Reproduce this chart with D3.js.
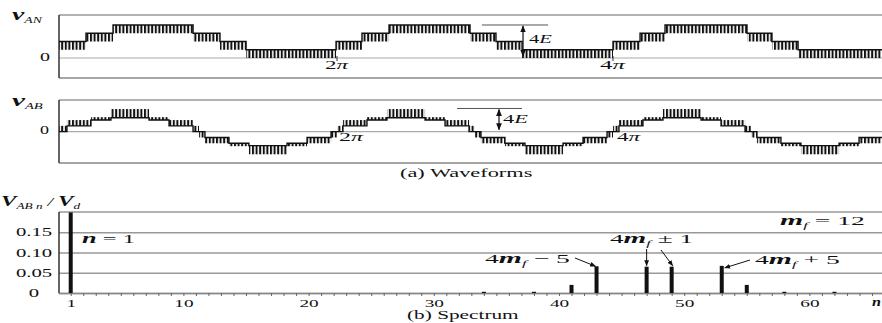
<!DOCTYPE html>
<html>
<head>
<meta charset="utf-8">
<script src="https://cdn.jsdelivr.net/npm/d3@7"></script>
<style>
  body { margin: 0; background: #fff; }
  svg { display: block; font-family: "Liberation Serif", "DejaVu Serif", serif; }
</style>
</head>
<body>
<div id="chart"></div>
<script>
// v_AN switching bands: [theta start, theta end] in units of pi, [low, high] level in units of E
const vanBands = [
  [-0.02, 0.181, 1, 2], [0.181, 0.377, 2, 3], [0.377, 0.957, 3, 4],
  [0.957, 1.152, 2, 3], [1.152, 1.341, 1, 2], [1.341, 1.993, 0, 1],
  [1.993, 2.181, 1, 2], [2.181, 2.377, 2, 3], [2.377, 2.964, 3, 4],
  [2.964, 3.152, 2, 3], [3.152, 3.341, 1, 2], [3.341, 4.0, 0, 1],
  [4.0, 4.196, 1, 2], [4.196, 4.377, 2, 3], [4.377, 4.971, 3, 4],
  [4.971, 5.152, 2, 3], [5.152, 5.341, 1, 2], [5.341, 5.96, 0, 1]
];

// v_AB switching bands, same layout
const vabBands = [
  [-0.02, 0.043, 0, 1], [0.043, 0.217, 1, 2], [0.217, 0.362, 2, 2.5],
  [0.362, 0.638, 2.4, 3.9], [0.638, 0.783, 2, 2.5], [0.783, 0.957, 1, 2],
  [0.957, 1.0, 0, 1], [1.0, 1.043, -1, 0], [1.043, 1.217, -2, -1],
  [1.217, 1.362, -2.5, -2], [1.362, 1.638, -3.9, -2.4], [1.638, 1.783, -2.5, -2],
  [1.783, 1.957, -2, -1], [1.957, 2.0, -1, 0],
  [2.0, 2.043, 0, 1], [2.043, 2.217, 1, 2], [2.217, 2.362, 2, 2.5],
  [2.362, 2.638, 2.4, 3.9], [2.638, 2.783, 2, 2.5], [2.783, 2.957, 1, 2],
  [2.957, 3.0, 0, 1], [3.0, 3.043, -1, 0], [3.043, 3.217, -2, -1],
  [3.217, 3.362, -2.5, -2], [3.362, 3.638, -3.9, -2.4], [3.638, 3.783, -2.5, -2],
  [3.783, 3.957, -2, -1], [3.957, 4.0, -1, 0],
  [4.0, 4.043, 0, 1], [4.043, 4.217, 1, 2], [4.217, 4.362, 2, 2.5],
  [4.362, 4.638, 2.4, 3.9], [4.638, 4.783, 2, 2.5], [4.783, 4.957, 1, 2],
  [4.957, 5.0, 0, 1], [5.0, 5.043, -1, 0], [5.043, 5.217, -2, -1],
  [5.217, 5.362, -2.5, -2], [5.362, 5.638, -3.9, -2.4], [5.638, 5.783, -2.5, -2],
  [5.783, 5.96, -2, -1]
];

// spectrum
const harmonics  = [1, 34, 38, 41, 43, 47, 49, 53, 55, 58, 62];
const amplitudes = [0.199, 0.003, 0.003, 0.02, 0.066, 0.065, 0.065, 0.067, 0.02, 0.003, 0.003];
const yTicks = [0, 0.05, 0.10, 0.15];
const yTickLabels = ['0', '0.05', '0.10', '0.15'];
const xTicks = [1, 10, 20, 30, 40, 50, 60];
const piMarks = [2, 4];
const piLabels = ['2', '4'];

const W = 882, H = 323;
const left = 59, right = 882;

const svg = d3.select('#chart').append('svg')
  .attr('width', W).attr('height', H);

const defs = svg.append('defs');
defs.append('pattern')
  .attr('id', 'pulse').attr('patternUnits', 'userSpaceOnUse')
  .attr('width', 3.6).attr('height', 8)
  .append('rect').attr('width', 2).attr('height', 8).attr('fill', '#111');
defs.append('marker')
  .attr('id', 'ah').attr('viewBox', '0 0 10 10')
  .attr('refX', 9).attr('refY', 5)
  .attr('markerWidth', 6).attr('markerHeight', 6)
  .attr('orient', 'auto-start-reverse')
  .append('path').attr('d', 'M0,1 L10,5 L0,9 z').attr('fill', '#111');

// text helper: stretches the text horizontally so it spans x0..x1
function label(x0, x1, y, parts) {
  const t = svg.append('text').attr('x', 0).attr('y', 0).attr('fill', '#111');
  let prev = 0;
  parts.forEach(p => {
    const off = p.off || 0;
    t.append('tspan')
      .attr('dy', off - prev)
      .attr('font-size', p.s || 12)
      .attr('font-style', p.i ? 'italic' : 'normal')
      .attr('font-weight', p.b ? 'bold' : 'normal')
      .text(p.t);
    prev = off;
  });
  const bb = t.node().getBBox();
  const sx = (x1 - x0) / bb.width;
  t.attr('transform', `translate(${x0},${y}) scale(${sx},1) translate(${-bb.x},0)`);
  return t;
}

const theta = d3.scaleLinear().domain([0, 6]).range([61, 889]);

function wavePanel(id, bands, y, top, bottom, baseOf) {
  const g = svg.append('g');
  defs.append('clipPath').attr('id', id)
    .append('rect').attr('x', left).attr('y', top)
    .attr('width', right - left).attr('height', bottom - top);

  g.append('line').attr('x1', left).attr('x2', right).attr('y1', top).attr('y2', top)
    .attr('stroke', '#999').attr('stroke-width', 1.4);
  g.append('line').attr('x1', left).attr('x2', right).attr('y1', bottom).attr('y2', bottom)
    .attr('stroke', '#888').attr('stroke-width', 1.6);
  g.append('line').attr('x1', left).attr('x2', right).attr('y1', y(0)).attr('y2', y(0))
    .attr('stroke', '#aaa').attr('stroke-width', 1.2);
  g.append('line').attr('x1', left).attr('x2', left).attr('y1', top).attr('y2', bottom)
    .attr('stroke', '#333').attr('stroke-width', 1.5);

  const w = g.append('g').attr('clip-path', `url(#${id})`);
  w.selectAll('rect.band')
    .data(bands)
    .enter()
    .append('rect')
      .attr('class', 'band')
      .attr('x', d => theta(d[0]))
      .attr('width', d => theta(d[1]) - theta(d[0]))
      .attr('y', d => y(d[3]))
      .attr('height', d => y(d[2]) - y(d[3]))
      .attr('fill', 'url(#pulse)');

  const pts = bands.map(d => [d[0], baseOf(d)]);
  const last = bands[bands.length - 1];
  pts.push([last[1], baseOf(last)]);
  w.append('path')
    .attr('d', d3.line().x(d => theta(d[0])).y(d => y(d[1])).curve(d3.curveStepAfter)(pts))
    .attr('fill', 'none').attr('stroke', '#111').attr('stroke-width', 1.4);
  return g;
}

// (a) waveforms
const yAN = d3.scaleLinear().domain([-2.42, 5.21]).range([78, 15]);
const yAB = d3.scaleLinear().domain([-5.4, 5.46]).range([163, 100]);

const gA = wavePanel('clipA', vanBands, yAN, 15, 78, d => d[3]);
const gB = wavePanel('clipB', vabBands, yAB, 100, 163,
  d => Math.abs(d[2]) < Math.abs(d[3]) ? d[2] : d[3]);

// small marks at 2pi, 4pi on v_AN
gA.selectAll('line.pim').data(piMarks).enter().append('line')
  .attr('x1', d => theta(d)).attr('x2', d => theta(d))
  .attr('y1', yAN(0) - 2).attr('y2', yAN(0) + 3)
  .attr('stroke', '#333').attr('stroke-width', 1);

// 4E markers
function fourE(g, y, t0, t1, ta) {
  g.append('line').attr('x1', theta(t0)).attr('x2', theta(t1))
    .attr('y1', y(4)).attr('y2', y(4)).attr('stroke', '#555').attr('stroke-width', 1);
  g.append('line').attr('x1', theta(ta)).attr('x2', theta(ta))
    .attr('y1', y(4) + 1).attr('y2', y(0) - 2)
    .attr('stroke', '#111').attr('stroke-width', 1.2)
    .attr('marker-start', 'url(#ah)').attr('marker-end', 'url(#ah)');
}
fourE(gA, yAN, 3.05, 3.53, 3.348);
fourE(gB, yAB, 2.87, 3.34, 3.174);

label(12, 43, 20, [{t: 'v', s: 16, i: 1, b: 1}, {t: 'AN', s: 8, i: 1, off: 3}]);
label(12, 43, 106, [{t: 'v', s: 16, i: 1, b: 1}, {t: 'AB', s: 8, i: 1, off: 3}]);
label(40, 50, 61, [{t: '0', s: 12}]);
label(40, 49, 134, [{t: '0', s: 12}]);

label(325, 350, 69, [{t: piLabels[0], s: 12}, {t: 'π', s: 12, i: 1}]);
label(600, 627, 69, [{t: piLabels[1], s: 12}, {t: 'π', s: 12, i: 1}]);
label(339, 365, 141, [{t: piLabels[0], s: 12}, {t: 'π', s: 12, i: 1}]);
label(617, 642, 141, [{t: piLabels[1], s: 12}, {t: 'π', s: 12, i: 1}]);
label(529, 553, 43, [{t: '4', s: 12}, {t: 'E', s: 12, i: 1}]);
label(503, 529, 123, [{t: '4', s: 12}, {t: 'E', s: 12, i: 1}]);
label(400, 533, 177, [{t: '(a) Waveforms', s: 12}]);

// (b) spectrum
const xs = d3.scaleLinear().domain([0, 66]).range([58.2, 884.5]);
const ys = d3.scaleLinear().domain([0, 0.2]).range([293, 212]);
const spec = harmonics.map((h, i) => ({h: h, v: amplitudes[i]}));

const gy = svg.append('g').attr('transform', `translate(${left},0)`)
  .call(d3.axisLeft(ys).tickValues(yTicks).tickSize(-(right - left))
    .tickFormat((d, i) => yTickLabels[i]));
gy.select('.domain').remove();
gy.selectAll('.tick line').attr('stroke', '#999').attr('stroke-width', 1.4);
gy.selectAll('.tick text')
  .attr('x', 0).attr('text-anchor', 'middle')
  .attr('font-family', '"Liberation Serif", serif').attr('font-size', 11.5).attr('fill', '#111')
  .attr('transform', 'translate(-25,0) scale(1.8,1)');

svg.append('line').attr('x1', left).attr('x2', right).attr('y1', 212).attr('y2', 212)
  .attr('stroke', '#999').attr('stroke-width', 1.4);

const gx = svg.append('g').attr('transform', 'translate(0,293)')
  .call(d3.axisBottom(xs).tickValues(d3.range(1, 66)).tickSize(3).tickSizeOuter(0).tickFormat(''));
gx.select('.domain').attr('stroke', '#888').attr('stroke-width', 1.5);
gx.selectAll('.tick line').attr('stroke', '#666');

const gxl = svg.append('g').attr('transform', 'translate(0,293)')
  .call(d3.axisBottom(xs).tickValues(xTicks).tickSize(0).tickPadding(6));
gxl.select('.domain').remove();
gxl.selectAll('.tick text')
  .attr('font-family', '"Liberation Serif", serif').attr('font-size', 11).attr('fill', '#111')
  .attr('transform', 'scale(1.75,1)');

svg.append('line').attr('x1', left).attr('x2', left).attr('y1', 212).attr('y2', 293)
  .attr('stroke', '#333').attr('stroke-width', 1.5);

svg.append('g').selectAll('rect')
  .data(spec)
  .enter()
  .append('rect')
    .attr('x', d => xs(d.h) - 2)
    .attr('width', 4)
    .attr('y', d => ys(d.v))
    .attr('height', d => ys(0) - ys(d.v))
    .attr('fill', '#111');

// annotations
function arrow(x1, y1, x2, y2) {
  svg.append('line').attr('x1', x1).attr('y1', y1).attr('x2', x2).attr('y2', y2)
    .attr('stroke', '#111').attr('stroke-width', 1)
    .attr('marker-end', 'url(#ah)');
}
arrow(575, 258, xs(43) - 1, ys(0.066));
arrow(xs(47), 249, xs(47), ys(0.065) - 1);
arrow(661, 250, xs(49) + 1, ys(0.065) - 1);
arrow(750, 260, xs(53) + 3, ys(0.067) + 2);

label(1, 82, 206, [
  {t: 'V', s: 14, i: 1, b: 1}, {t: 'AB n', s: 8, i: 1, off: 3},
  {t: ' / ', s: 12, i: 1}, {t: 'V', s: 14, i: 1, b: 1}, {t: 'd', s: 8, i: 1, off: 3}
]);
label(82, 135, 243, [{t: 'n', s: 14, i: 1, b: 1}, {t: ' = 1', s: 13}]);
label(780, 865, 225, [{t: 'm', s: 14, i: 1, b: 1}, {t: 'f', s: 8, i: 1, off: 3}, {t: ' = 12', s: 13, off: 0}]);
label(610, 693, 243, [{t: '4', s: 13}, {t: 'm', s: 14, i: 1, b: 1}, {t: 'f', s: 8, i: 1, off: 3}, {t: '  ± 1', s: 13, off: 0}]);
label(485, 570, 263, [{t: '4', s: 13}, {t: 'm', s: 14, i: 1, b: 1}, {t: 'f', s: 8, i: 1, off: 3}, {t: '  − 5', s: 13, off: 0}]);
label(755, 840, 264, [{t: '4', s: 13}, {t: 'm', s: 14, i: 1, b: 1}, {t: 'f', s: 8, i: 1, off: 3}, {t: '  + 5', s: 13, off: 0}]);
label(872, 881, 306, [{t: 'n', s: 13, i: 1, b: 1}]);
label(407, 520, 319, [{t: '(b) Spectrum', s: 12}]);
</script>
</body>
</html>
